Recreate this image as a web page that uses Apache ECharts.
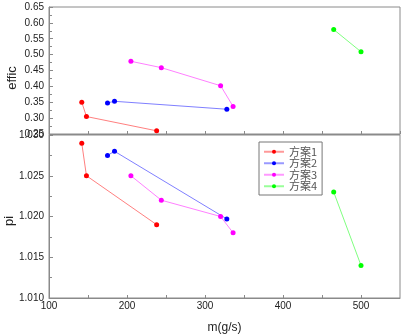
<!DOCTYPE html>
<html>
<head>
<meta charset="utf-8">
<script src="https://cdn.jsdelivr.net/npm/echarts@6/dist/echarts.min.js"></script>
<style>
html,body{margin:0;padding:0;background:#fff;}
#chart{width:404px;height:335px;}
</style>
</head>
<body>
<div id="chart"></div>
<script>
var seriesNames = ['方案1', '方案2', '方案3', '方案4'];
var colors = ['#ff0000', '#0000ff', '#ff00ff', '#00ff00'];

var m1 = [142, 148, 238];
var effic1 = [0.350, 0.305, 0.260];
var pi1 = [1.0290, 1.0250, 1.0190];

var m2 = [175, 184, 328];
var effic2 = [0.348, 0.353, 0.328];
var pi2 = [1.0275, 1.0280, 1.0197];

var m3 = [205, 244, 320, 336];
var effic3 = [0.479, 0.459, 0.402, 0.337];
var pi3 = [1.0250, 1.0220, 1.0200, 1.0180];

var m4 = [465, 500];
var effic4 = [0.579, 0.509];
var pi4 = [1.0230, 1.0140];

var xTickLabels = ['100', '200', '300', '400', '500'];

var mList = [m1, m2, m3, m4];
var efficList = [effic1, effic2, effic3, effic4];
var piList = [pi1, pi2, pi3, pi4];

function pairs(xs, ys) {
  return xs.map(function (x, i) { return [x, ys[i]]; });
}

var axisColor = '#8a8a8a';
var labelFont = 'Liberation Sans, Arial, sans-serif';
var labelColor = '#222';

function xAxisCfg(gridIndex, showLabels, withName) {
  return {
    type: 'value', gridIndex: gridIndex, min: 100, max: 550, interval: 50,
    axisLine: { show: true, lineStyle: { color: axisColor, width: 1 } },
    axisTick: { show: true, inside: true, length: 3, lineStyle: { color: axisColor } },
    splitLine: { show: false },
    axisLabel: {
      show: showLabels, margin: 3, fontSize: 10, fontFamily: labelFont, color: labelColor,
      showMaxLabel: false,
      formatter: function (v) {
        var s = String(Math.round(v));
        return xTickLabels.indexOf(s) >= 0 ? s : '';
      }
    },
    name: withName ? 'm(g/s)' : '',
    nameLocation: 'middle', nameGap: 24, nameMoveOverlap: false,
    nameTextStyle: { fontSize: 12, fontFamily: labelFont, color: labelColor }
  };
}

function yAxisCfg(gridIndex, min, max, interval, digits, name, nameGap, pad) {
  return {
    type: 'value', gridIndex: gridIndex, min: min, max: max, interval: interval,
    axisLine: { show: true, lineStyle: { color: axisColor, width: 1 } },
    axisTick: { show: true, inside: true, length: 4, lineStyle: { color: axisColor } },
    minorTick: { show: true, splitNumber: 2, length: 3, lineStyle: { color: axisColor } },
    splitLine: { show: false },
    axisLabel: {
      margin: 5, fontSize: 10, fontFamily: labelFont, color: labelColor,
      formatter: function (v) { return v.toFixed(digits); }
    },
    name: name, nameLocation: 'middle', nameGap: nameGap, nameRotate: 90, nameMoveOverlap: false,
    nameTextStyle: { fontSize: 13, fontFamily: labelFont, color: labelColor, padding: pad }
  };
}

var series = [];
for (var i = 0; i < 4; i++) {
  series.push({
    name: seriesNames[i], type: 'line', xAxisIndex: 0, yAxisIndex: 0,
    data: pairs(mList[i], efficList[i]),
    symbol: 'circle', symbolSize: 5, showSymbol: true,
    itemStyle: { color: colors[i] },
    lineStyle: { color: colors[i], width: 1, opacity: 0.5 },
    animation: false
  });
  series.push({
    name: seriesNames[i], type: 'line', xAxisIndex: 1, yAxisIndex: 1,
    data: pairs(mList[i], piList[i]),
    symbol: 'circle', symbolSize: 5, showSymbol: true,
    itemStyle: { color: colors[i] },
    lineStyle: { color: colors[i], width: 1, opacity: 0.5 },
    animation: false
  });
}

var chart = echarts.init(document.getElementById('chart'), null, { renderer: 'canvas' });
chart.setOption({
  backgroundColor: '#ffffff',
  animation: false,
  grid: [
    { left: 49, top: 7, width: 351, height: 127, show: true, borderColor: axisColor, borderWidth: 1, containLabel: false, outerBoundsMode: 'none' },
    { left: 49, top: 135, width: 351, height: 163, show: true, borderColor: axisColor, borderWidth: 1, containLabel: false, outerBoundsMode: 'none' }
  ],
  xAxis: [xAxisCfg(0, false, false), xAxisCfg(1, true, true)],
  yAxis: [
    yAxisCfg(0, 0.25, 0.65, 0.05, 2, 'effic', 30, [0, 15, 0, 0]),
    yAxisCfg(1, 1.010, 1.030, 0.005, 3, 'pi', 33, [0, 9, 0, 0])
  ],
  legend: {
    data: seriesNames,
    orient: 'vertical', left: 259, top: 142,
    padding: [4, 5, 3, 4],
    itemWidth: 20, itemHeight: 5, itemGap: 0,
    borderColor: '#777', borderWidth: 1,
    lineStyle: { opacity: 0.4 },
    textStyle: { fontSize: 11, lineHeight: 11.5, color: '#555', fontFamily: 'Noto Sans CJK SC' }
  },
  series: series
});
</script>
</body>
</html>
